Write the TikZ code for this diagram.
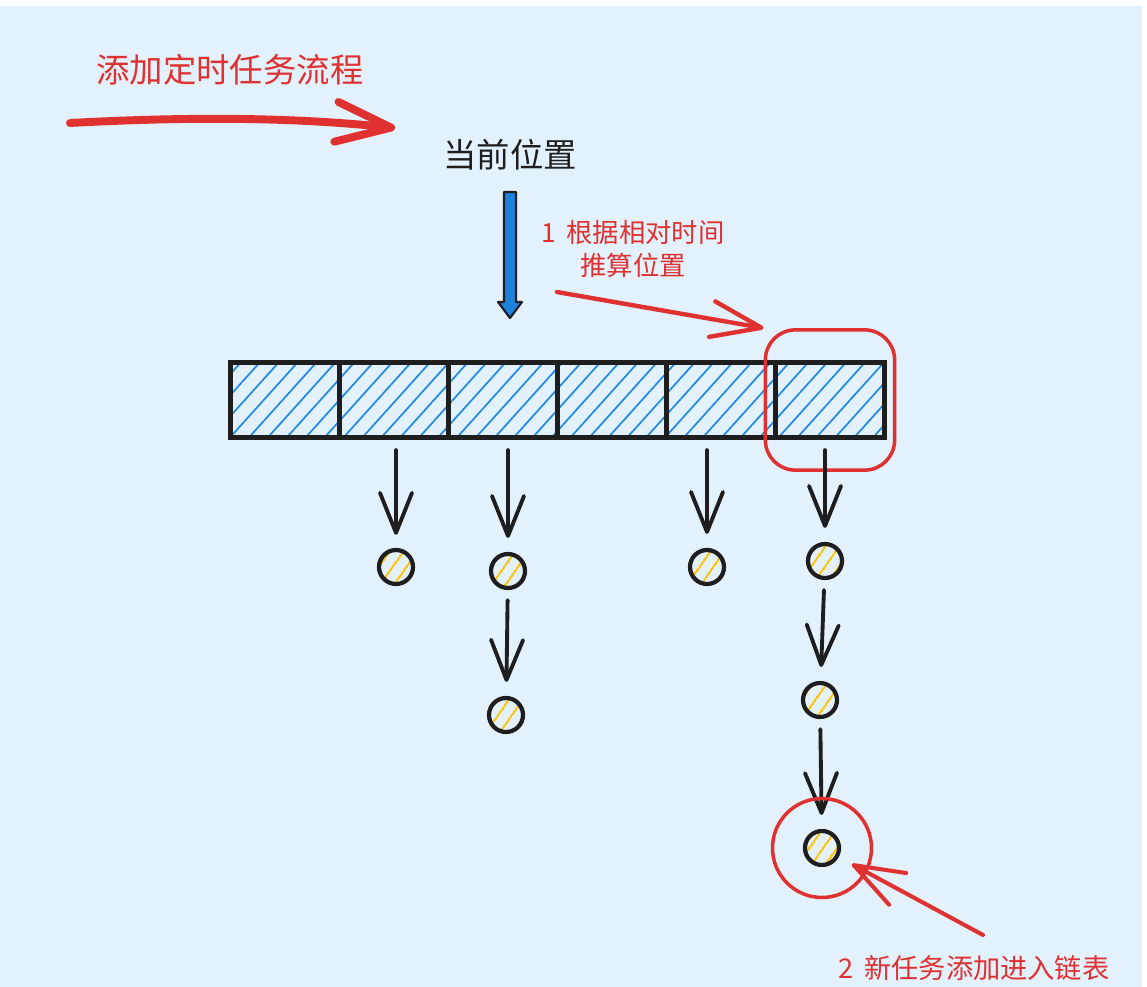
\documentclass[tikz,border=0pt]{standalone}
\usepackage{fontspec}
\setmainfont{Noto Sans CJK SC}
\usetikzlibrary{arrows.meta,patterns.meta,fit}
\definecolor{paper}{RGB}{227,241,253}
\definecolor{inkred}{RGB}{224,49,49}
\definecolor{inkblack}{RGB}{30,30,30}
\definecolor{hatchblue}{RGB}{34,139,230}
\definecolor{ptrblue}{RGB}{28,130,222}
\definecolor{hatchyellow}{RGB}{250,196,25}
\def\bigtxt{\fontsize{19}{23}\selectfont}
\def\smalltxt{\fontsize{15}{18.7}\selectfont}
\tikzset{
	slot/.style={draw=inkblack, line width=3pt, pattern={Lines[angle=48,distance=8pt,line width=1pt]}, pattern color=hatchblue, minimum width=2.18cm, minimum height=1.5cm, inner sep=0pt},
	task/.style={circle, draw=inkblack, line width=2.4pt, pattern={Lines[angle=55,distance=6.5pt,line width=1.4pt]}, pattern color=hatchyellow, minimum size=0.68cm, inner sep=0pt},
	flow/.style={draw=inkblack, line width=2.2pt, line cap=round, -{Straight Barb[length=0.8cm,width=0.64cm,round]}, shorten <=0.2cm, shorten >=0.28cm},
	note/.style={draw=inkred, line width=2.5pt, line cap=round, -{Straight Barb[length=1cm,width=0.72cm,round]}},
	ring/.style={draw=inkred, line width=2pt}
}

\begin{document}
\begin{tikzpicture}[x=0.02cm, y=-0.02cm]
			%%%%% START %%%%%
			
			\useasboundingbox (0, 0) rectangle (1147, 987);
			\fill[white] (0, 0) rectangle (1147, 987);
			\fill[paper] (0, 6) rectangle (1142, 987);
			
			\node[inkred, font=\bigtxt] (title) at (230, 70) {添加定时任务流程};
			\coordinate (flowA) at (70, 123);
			\coordinate (flowB) at (395, 128);
			\draw[inkred, line width=4.5pt, line cap=round, -{Straight Barb[length=1.1cm,width=0.8cm,round]}] (flowA) .. controls (200, 116) and (300, 118) .. (flowB);
			
			\node[inkblack, font=\bigtxt] (cur) at (510, 155) {当前位置};
			% pointer
			\draw[fill=ptrblue, draw=inkblack, line width=1.2pt, line join=round] (504, 192) -- (516, 192) -- (516, 302) -- (522, 302) -- (510, 318) -- (498, 302) -- (504, 302) -- cycle;
			
			% wheel slots
			\node[slot] (cell1) at (285, 400) {};
			\node[slot] (cell2) at (394, 400) {};
			\node[slot] (cell3) at (503, 400) {};
			\node[slot] (cell4) at (612, 400) {};
			\node[slot] (cell5) at (721, 400) {};
			\node[slot] (cell6) at (830, 400) {};
			
			\node[ring, rounded corners=0.6cm, fit=(cell6), inner xsep=0.15cm, inner ysep=0.6cm] (pick) {};
			
			\node[inkred, align=center, font=\smalltxt] (hint) at (633, 249) {1\, 根据相对时间\\推算位置};
			\coordinate (hintA) at (557, 292);
			\draw[note] (hintA) -- (pick.north west);
			
			% task lists
			\node[task] (t1) at (396, 567) {};
			\node[task] (t2) at (508, 571) {};
			\node[task] (t3) at (506, 715) {};
			\node[task] (t4) at (707, 567) {};
			\node[task] (t5) at (825, 561) {};
			\node[task] (t6) at (820, 700) {};
			\node[task] (t7) at (822, 848) {};
			
			\draw[flow] (t1 |- cell2.south) -- (t1);
			\draw[flow] (t2 |- cell3.south) -- (t2);
			\draw[flow] (t2) -- (t3);
			\draw[flow] (t4 |- cell5.south) -- (t4);
			\draw[flow] (t5 |- cell6.south) -- (t5);
			\draw[flow] (t5) -- (t6);
			\draw[flow] (t6) -- (t7);
			
			\node[ring, circle, minimum size=1.98cm] (newring) at (t7) {};
			\node[inkred, font=\fontsize{15.5}{18.7}\selectfont] (tip2) at (974, 968) {2\, 新任务添加进入链表};
			\coordinate (noteA) at (983, 935);
			\draw[note, line width=2.3pt, shorten >=0.68cm] (noteA) -- (newring.center);
			
			%%%%% END %%%%%
\end{tikzpicture}
\end{document}
